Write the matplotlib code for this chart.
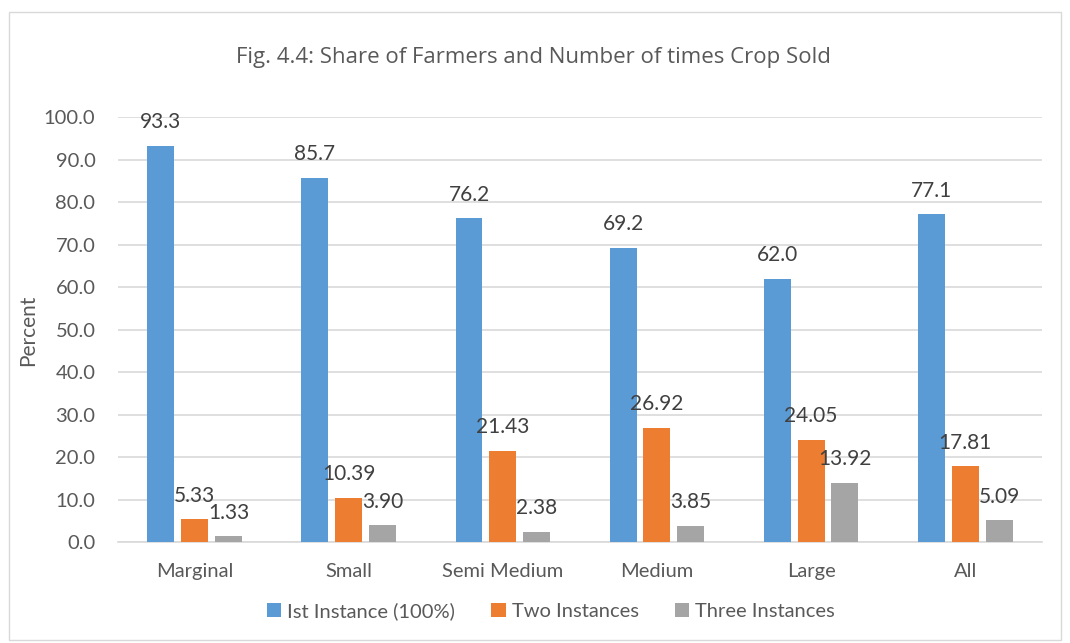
import numpy as np
import matplotlib.pyplot as plt
from matplotlib.patches import Rectangle

categories = ['Marginal', 'Small', 'Semi Medium', 'Medium', 'Large', 'All']
series_names = ['Ist Instance (100%)', 'Two Instances', 'Three Instances']
first = [93.3, 85.7, 76.2, 69.2, 62.0, 77.1]
two = [5.33, 10.39, 21.43, 26.92, 24.05, 17.81]
three = [1.33, 3.90, 2.38, 3.85, 13.92, 5.09]
label_fmt = ['{:.1f}', '{:.2f}', '{:.2f}']

colors = ['#5B9BD5', '#ED7D31', '#A5A5A5']
txt = '#595959'

plt.rcParams['font.family'] = ['Lato', 'DejaVu Sans']

fig = plt.figure(figsize=(10.7, 6.43), dpi=100, facecolor='w')
ax = fig.add_axes([0.110, 0.157, 0.864, 0.661])

x = np.arange(len(categories))
step = 0.22
width = 0.175
for i, vals in enumerate([first, two, three]):
    pos = x + (i - 1) * step
    ax.bar(pos, vals, width, color=colors[i], label=series_names[i], zorder=3)
    for px, v in zip(pos, vals):
        ax.annotate(label_fmt[i].format(v), (px, v), xytext=(0, 17),
                    textcoords='offset points', ha='center', va='center',
                    fontsize=15, color='#404040')

ax.set_xlim(-0.5, len(categories) - 0.5)
ax.set_ylim(0, 100)
ax.set_yticks(np.arange(0, 101, 10))
ax.set_yticklabels(['{:.1f}'.format(t) for t in np.arange(0, 101, 10)])
ax.set_xticks(x)
ax.set_xticklabels(categories)
ax.tick_params(axis='both', length=0, labelsize=14.5, colors=txt)
ax.tick_params(axis='y', pad=16)
ax.tick_params(axis='x', pad=15)
ax.yaxis.grid(True, color='#D9D9D9', linewidth=1.2, zorder=0)
for s in ['top', 'right', 'left']:
    ax.spines[s].set_visible(False)
ax.spines['bottom'].set_color('#D9D9D9')
ax.spines['bottom'].set_linewidth(1.2)

# axis title and chart title placed in figure coords
fig.text(28 / 1070, 1 - 330 / 643, 'Percent', rotation=90, ha='center', va='center',
         fontsize=15, color=txt)
fig.text(533 / 1070, 1 - 57 / 643, 'Fig. 4.4: Share of Farmers and Number of times Crop Sold',
         ha='center', va='center', fontsize=16, color=txt,
         family=['Open Sans', 'DejaVu Sans'])

ax.legend(loc='center', bbox_to_anchor=(551 / 1070, 1 - 611 / 643),
          bbox_transform=fig.transFigure, ncol=3, frameon=False, fontsize=14.5,
          handlelength=0.7, handleheight=0.7, handletextpad=0.3, columnspacing=1.8,
          labelcolor=txt)

fig.patches.append(Rectangle((0.008, 0.005), 0.984, 0.976, transform=fig.transFigure,
                             fill=False, edgecolor='#D9D9D9', linewidth=1))

fig.savefig('out.png', dpi=100)
